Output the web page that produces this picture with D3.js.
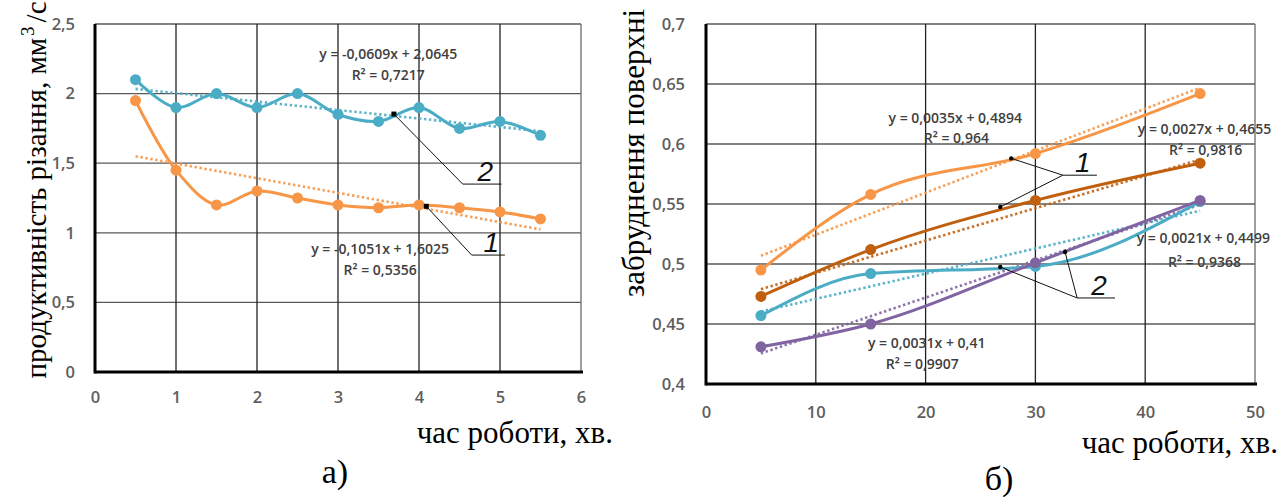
<!DOCTYPE html>
<html>
<head>
<meta charset="utf-8">
<script src="https://cdn.jsdelivr.net/npm/d3@7/dist/d3.min.js"></script>
<style>
    body { margin: 0; background: #fff; }
    svg { display: block; }
</style>
</head>
<body>
<svg id="chart" width="1287" height="500"></svg>
<script>
// ---- data: panel a) ----
const leftX = [0.5, 1, 1.5, 2, 2.5, 3, 3.5, 4, 4.5, 5, 5.5]
const leftSeries1 = [1.95, 1.45, 1.2, 1.3, 1.25, 1.2, 1.18, 1.2, 1.18, 1.15, 1.1]
const leftSeries2 = [2.1, 1.9, 2.0, 1.9, 2.0, 1.85, 1.8, 1.9, 1.75, 1.8, 1.7]
const leftTrend1 = [-0.1051, 1.6025]
const leftTrend2 = [-0.0609, 2.0645]
const leftXTicks = [0, 1, 2, 3, 4, 5, 6]
const leftYTicks = [0, 0.5, 1, 1.5, 2, 2.5]

// ---- data: panel б) ----
const rightX = [5, 15, 30, 45]
const rightLightOrange = [0.495, 0.558, 0.592, 0.642]
const rightDarkOrange = [0.473, 0.512, 0.553, 0.584]
const rightBlue = [0.457, 0.492, 0.498, 0.552]
const rightPurple = [0.431, 0.45, 0.501, 0.553]
const rightTrendLightOrange = [0.0035, 0.4894]
const rightTrendDarkOrange = [0.0027, 0.4655]
const rightTrendBlue = [0.0021, 0.4499]
const rightTrendPurple = [0.0031, 0.41]
const rightXTicks = [0, 10, 20, 30, 40, 50]
const rightYTicks = [0.4, 0.45, 0.5, 0.55, 0.6, 0.65, 0.7]

const C_ORANGE = '#f79646'
const C_DARK = '#c0600f'
const C_BLUE = '#4bacc6'
const C_PURPLE = '#8064a2'

const svg = d3.select('#chart')
const fmt = d => String(d).replace('.', ',')
const font = '"Open Sans", Lato, sans-serif'
const serif = '"Liberation Serif", "Times New Roman", serif'

const drawPanel = function (cfg) {
    const x = d3.scaleLinear().domain(cfg.xDomain).range(cfg.xRange)
    const y = d3.scaleLinear().domain(cfg.yDomain).range(cfg.yRange)
    const g = svg.append('g')

    // grid
    g.selectAll('.hgrid').data(cfg.yTicks.slice(1)).enter().append('line')
        .attr('x1', x.range()[0]).attr('x2', x.range()[1])
        .attr('y1', d => y(d)).attr('y2', d => y(d))
        .attr('stroke', '#5a5a5a').attr('stroke-width', 1.3)
    g.selectAll('.vgrid').data(cfg.xTicks.slice(1)).enter().append('line')
        .attr('x1', d => x(d)).attr('x2', d => x(d))
        .attr('y1', y.range()[0]).attr('y2', y.range()[1])
        .attr('stroke', d => d === cfg.xTicks[cfg.xTicks.length - 1] ? '#6a6a6a' : '#222')
        .attr('stroke-width', 1.3)

    // axes (labels only, lines drawn thick below)
    const ay = g.append('g')
        .attr('transform', `translate(${x.range()[0]},0)`)
        .call(d3.axisLeft(y).tickValues(cfg.yTicks).tickSize(0).tickPadding(cfg.yPad).tickFormat(fmt))
    const ax = g.append('g')
        .attr('transform', `translate(0,${y.range()[0]})`)
        .call(d3.axisBottom(x).tickValues(cfg.xTicks).tickSize(0).tickPadding(cfg.xPad).tickFormat(fmt))
    ;[ax, ay].forEach(a => {
        a.select('.domain').remove()
        a.selectAll('text').attr('fill', '#5e5e5e')
            .style('font-family', font).style('font-size', '16.5px').style('font-weight', 600)
    })

    g.append('line')
        .attr('x1', x.range()[0]).attr('x2', x.range()[0])
        .attr('y1', y.range()[0] + 1.5).attr('y2', y.range()[1])
        .attr('stroke', '#000').attr('stroke-width', 3)
    g.append('line')
        .attr('x1', x.range()[0]).attr('x2', x.range()[1] + 2)
        .attr('y1', y.range()[0]).attr('y2', y.range()[0])
        .attr('stroke', '#000').attr('stroke-width', 3)

    // trend lines
    cfg.series.forEach(s => {
        const ends = [cfg.xs[0], cfg.xs[cfg.xs.length - 1]]
        g.append('line')
            .attr('x1', x(ends[0])).attr('y1', y(s.trend[0] * ends[0] + s.trend[1]))
            .attr('x2', x(ends[1])).attr('y2', y(s.trend[0] * ends[1] + s.trend[1]))
            .attr('stroke', s.color).attr('stroke-width', 2.6)
            .attr('stroke-dasharray', '2.4,2.6').attr('opacity', 0.9)
    })

    // series
    const line = d3.line()
        .x((d, i) => x(cfg.xs[i]))
        .y(d => y(d))
        .curve(cfg.curve)
    cfg.series.forEach(s => {
        g.append('path')
            .attr('d', line(s.values))
            .attr('fill', 'none')
            .attr('stroke', s.color)
            .attr('stroke-width', 3)
        g.selectAll(null).data(s.values).enter().append('circle')
            .attr('cx', (d, i) => x(cfg.xs[i]))
            .attr('cy', d => y(d))
            .attr('r', 5.5)
            .attr('fill', s.color)
    })

    // equations
    cfg.equations.forEach(e => {
        g.append('text')
            .attr('x', x(e.at[0])).attr('y', y(e.at[1]))
            .attr('text-anchor', 'middle')
            .attr('dominant-baseline', 'central')
            .attr('fill', '#404040')
            .style('font-family', font).style('font-size', '14px').style('font-weight', 600)
            .text(e.text)
    })

    // leader lines with numbers
    cfg.leaders.forEach(l => {
        l.from.forEach(p => {
            g.append('line')
                .attr('x1', x(p[0])).attr('y1', y(p[1]))
                .attr('x2', x(l.elbow[0])).attr('y2', y(l.elbow[1]))
                .attr('stroke', '#111').attr('stroke-width', 1)
            if (l.square) {
                g.append('rect')
                    .attr('x', x(p[0]) - 2.5).attr('y', y(p[1]) - 2.5)
                    .attr('width', 5).attr('height', 5).attr('fill', '#000')
            } else {
                g.append('circle')
                    .attr('cx', x(p[0])).attr('cy', y(p[1])).attr('r', 2.2).attr('fill', '#000')
            }
        })
        g.append('line')
            .attr('x1', x(l.elbow[0])).attr('y1', y(l.elbow[1]))
            .attr('x2', x(l.end)).attr('y2', y(l.elbow[1]))
            .attr('stroke', '#111').attr('stroke-width', 1)
        g.append('text')
            .attr('x', (x(l.elbow[0]) + x(l.end)) / 2 + 3)
            .attr('y', y(l.elbow[1]) - 3)
            .attr('text-anchor', 'middle')
            .attr('fill', '#111')
            .style('font-family', '"Liberation Sans", sans-serif')
            .style('font-style', 'italic').style('font-size', '28px')
            .text(l.label)
    })

    // titles
    const yt = g.append('text')
        .attr('transform', `translate(${cfg.yTitle.x},${cfg.yTitle.y}) rotate(-90)`)
        .attr('text-anchor', 'middle')
        .attr('fill', '#000')
        .style('font-family', serif).style('font-size', cfg.yTitle.size + 'px')
    cfg.yTitle.parts.forEach(p => {
        const ts = yt.append('tspan').text(p.t)
        if (p.sup) ts.attr('dy', -12).attr('dx', 2).style('font-size', '19px')
        if (p.after) ts.attr('dy', 12).attr('dx', 4)
    })
    g.append('text')
        .attr('x', cfg.xTitle.x).attr('y', cfg.xTitle.y)
        .attr('text-anchor', 'end')
        .attr('fill', '#000')
        .style('font-family', serif).style('font-size', '31px')
        .text('час роботи, хв.')
    g.append('text')
        .attr('x', cfg.tag.x).attr('y', cfg.tag.y)
        .attr('text-anchor', 'middle')
        .attr('fill', '#000')
        .style('font-family', serif).style('font-size', '34px')
        .text(cfg.tag.t)
}

drawPanel({
    xDomain: [0, 6], xRange: [95, 581],
    yDomain: [0, 2.5], yRange: [372, 24],
    xTicks: leftXTicks, yTicks: leftYTicks,
    xPad: 19, yPad: 20,
    xs: leftX,
    curve: d3.curveCatmullRom.alpha(0.5),
    series: [
        { values: leftSeries1, trend: leftTrend1, color: C_ORANGE },
        { values: leftSeries2, trend: leftTrend2, color: C_BLUE }
    ],
    equations: [
        { text: 'y = -0,0609x + 2,0645', at: [3.62, 2.29] },
        { text: 'R² = 0,7217', at: [3.62, 2.14] },
        { text: 'y = -0,1051x + 1,6025', at: [3.52, 0.89] },
        { text: 'R² = 0,5356', at: [3.52, 0.733] }
    ],
    leaders: [
        { from: [[3.69, 1.853]], elbow: [4.54, 1.35], end: 5.02, label: '2', square: true },
        { from: [[4.09, 1.19]], elbow: [4.65, 0.84], end: 5.06, label: '1', square: true }
    ],
    yTitle: { x: 46, y: 190, size: 29, parts: [{ t: 'продуктивність різання, мм' }, { t: '3', sup: true }, { t: '/с', after: true }] },
    xTitle: { x: 613, y: 443 },
    tag: { x: 335, y: 483, t: 'а)' }
})

drawPanel({
    xDomain: [0, 50], xRange: [706, 1255],
    yDomain: [0.4, 0.7], yRange: [384, 24],
    xTicks: rightXTicks, yTicks: rightYTicks,
    xPad: 22, yPad: 21,
    xs: rightX,
    curve: d3.curveMonotoneX,
    series: [
        { values: rightLightOrange, trend: rightTrendLightOrange, color: C_ORANGE },
        { values: rightDarkOrange, trend: rightTrendDarkOrange, color: C_DARK },
        { values: rightBlue, trend: rightTrendBlue, color: C_BLUE },
        { values: rightPurple, trend: rightTrendPurple, color: C_PURPLE }
    ],
    equations: [
        { text: 'y = 0,0035x + 0,4894', at: [22.7, 0.6225] },
        { text: 'R² = 0,964', at: [22.8, 0.6058] },
        { text: 'y = 0,0027x + 0,4655', at: [45.4, 0.6133] },
        { text: 'R² = 0,9816', at: [45.5, 0.5958] },
        { text: 'y = 0,0021x + 0,4499', at: [45.3, 0.5225] },
        { text: 'R² = 0,9368', at: [45.4, 0.5025] },
        { text: 'y = 0,0031x + 0,41', at: [20.1, 0.435] },
        { text: 'R² = 0,9907', at: [19.7, 0.4175] }
    ],
    leaders: [
        { from: [[27.8, 0.588], [26.8, 0.5475]], elbow: [32.5, 0.574], end: 35.6, label: '1' },
        { from: [[26.8, 0.4975], [32.7, 0.51]], elbow: [33.8, 0.4717], end: 37.25, label: '2' }
    ],
    yTitle: { x: 644, y: 153, size: 31, parts: [{ t: 'забруднення поверхні' }] },
    xTitle: { x: 1278, y: 453 },
    tag: { x: 999, y: 490, t: 'б)' }
})
</script>
</body>
</html>
